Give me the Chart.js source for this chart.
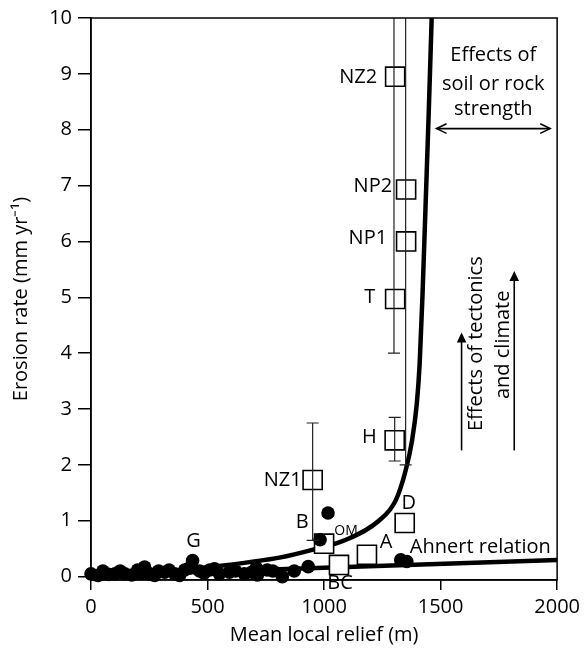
<!DOCTYPE html>
<html>
<head>
<meta charset="utf-8">
<script src="https://cdn.jsdelivr.net/npm/chart.js@4.4.1/dist/chart.umd.min.js"></script>
<style>
  html, body { margin: 0; padding: 0; background: #fff; }
  #wrap { width: 585px; height: 650px; }
</style>
</head>
<body>
<div id="wrap"><canvas id="myChart"></canvas></div>
<script>
const ctx = document.getElementById("myChart");

const xTicks = [0, 500, 1000, 1500, 2000];
const yTicks = [0, 1, 2, 3, 4, 5, 6, 7, 8, 9, 10];

// closed circles (sites)
const dotNames = ["", "", "", "", "", "", "", "", "", "", "", "G", "", "", "", "", "", "", "", "", "", "", "", "B", "", "", "",
                  "", "", "", "", "", "", "", "", "", ""];
const dotX = [0, 51, 103, 145, 200, 230, 252, 273, 316, 359, 402, 436, 466, 509, 551, 594, 658, 709, 714, 756, 821, 872, 932, 983, 1017, 1329, 1355,
              30, 75, 125, 175, 215, 290, 335, 380, 420, 485, 530, 620, 690, 780];
const dotY = [0.05, 0.1, 0.05, 0.05, 0.12, 0.17, 0.05, 0.02, 0.08, 0.05, 0.12, 0.29, 0.1, 0.12, 0.05, 0.08, 0.05, 0.16, 0.03, 0.12, 0.0, 0.1, 0.18, 0.66, 1.14, 0.3, 0.27,
              0.02, 0.04, 0.1, 0.03, 0.06, 0.1, 0.12, 0.02, 0.15, 0.06, 0.14, 0.1, 0.08, 0.1];

// open squares (named sites)
const sqNames = ["NZ2", "NP2", "NP1", "T", "H", "NZ1", "D", "OM", "A", "BC"];
const sqX = [1305, 1352, 1352, 1305, 1303, 951, 1346, 1000, 1184, 1064];
const sqY = [8.95, 6.93, 6.0, 4.97, 2.44, 1.73, 0.96, 0.59, 0.39, 0.21];

// error bars
const errX = [951, 1303, 1300, 1350];
const errLow = [0.65, 2.07, 4.0, 2.0];
const errHigh = [2.75, 2.85, 10.6, 10.6];

// threshold curve
const curveX = [0, 200, 400, 550, 680, 808, 949, 1094, 1235, 1308, 1350, 1378, 1398, 1410, 1422, 1436, 1449, 1461, 1467];
const curveY = [0.04, 0.07, 0.12, 0.19, 0.26, 0.34, 0.48, 0.66, 1.0, 1.37, 1.9, 2.45, 3.1, 3.8, 5.0, 6.7, 8.3, 9.9, 10.7];

// Ahnert relation
const ahnertX = [0, 2000];
const ahnertY = [0.02, 0.3];

const FONT = "'Open Sans', sans-serif";

// label placement: [dx, dy, align, size]
const labelPos = {
  NZ2: [-18, 1, "right", 20], NP2: [-14, -3, "right", 20], NP1: [-19, -3, "right", 20],
  T: [-20, -2, "right", 20], H: [-18, -3, "right", 20], NZ1: [-11, 0, "right", 20],
  D: [4, -20, "center", 20], OM: [22, -13, "center", 14], A: [19, -13, "center", 20],
  BC: [1, 18, "center", 20], G: [1, -19, "center", 20], B: [-18, -17, "center", 20]
};

function pts(xs, ys) {
  return xs.map(function (v, i) { return { x: v, y: ys[i] }; });
}

const datasets = [];
errX.forEach(function (v, i) {
  datasets.push({
    data: [{ x: v, y: errLow[i] }, { x: v, y: errHigh[i] }],
    showLine: true, borderColor: "#222", borderWidth: 1.2,
    pointStyle: "line", pointRadius: 6, pointBorderWidth: 1.2, pointBorderColor: "#222",
    order: 0
  });
});
datasets.push({
  data: pts(dotX, dotY), pointStyle: "circle", pointRadius: 6.8,
  backgroundColor: "#000", borderColor: "#000", borderWidth: 0, clip: false, order: 1
});
datasets.push({
  data: pts(sqX, sqY), pointStyle: "rect", pointRadius: 13.5,
  backgroundColor: "#fff", borderColor: "#000", borderWidth: 1.6, clip: false, order: 2
});
datasets.push({
  data: pts(curveX, curveY), showLine: true, borderColor: "#000", borderWidth: 4.5,
  borderJoinStyle: "round", pointRadius: 0, cubicInterpolationMode: "monotone", order: 3
});
datasets.push({
  data: pts(ahnertX, ahnertY), showLine: true, borderColor: "#000", borderWidth: 4.5,
  pointRadius: 0, order: 3
});

function arrowHead(c, x, y, dir, open) {
  const L = 11, W = 0.45;
  c.beginPath();
  c.moveTo(x - L * Math.cos(dir - W), y - L * Math.sin(dir - W));
  c.lineTo(x, y);
  c.lineTo(x - L * Math.cos(dir + W), y - L * Math.sin(dir + W));
  if (open) { c.stroke(); } else { c.closePath(); c.fill(); }
}

const annotate = {
  id: "annotate",
  afterDatasetsDraw(chart) {
    const c = chart.ctx;
    const a = chart.chartArea;
    const x = chart.scales.x, y = chart.scales.y;
    c.save();
    c.strokeStyle = "#000";
    c.fillStyle = "#000";
    c.lineWidth = 1.5;
    c.strokeRect(a.left, a.top, a.right - a.left, a.bottom - a.top);

    c.textBaseline = "middle";
    function label(name, px, py) {
      const p = labelPos[name];
      c.font = p[3] + "px " + FONT;
      c.textAlign = p[2];
      c.fillText(name, px + p[0], py + p[1]);
    }
    sqNames.forEach(function (n, i) {
      label(n, x.getPixelForValue(sqX[i]), y.getPixelForValue(sqY[i]));
    });
    dotNames.forEach(function (n, i) {
      if (n) label(n, x.getPixelForValue(dotX[i]), y.getPixelForValue(dotY[i]));
    });

    c.font = "20px " + FONT;
    c.textAlign = "left";
    c.fillText("Ahnert relation", x.getPixelForValue(1368), y.getPixelForValue(0.52));

    c.textAlign = "center";
    const cx = x.getPixelForValue(1726);
    c.fillText("Effects of", cx, y.getPixelForValue(9.34));
    c.fillText("soil or rock", cx, y.getPixelForValue(8.82));
    c.fillText("strength", cx, y.getPixelForValue(8.36));

    // double arrow
    const ay = y.getPixelForValue(8.02);
    const ax1 = x.getPixelForValue(1483), ax2 = x.getPixelForValue(1970);
    c.lineWidth = 1.6;
    c.beginPath(); c.moveTo(ax1, ay); c.lineTo(ax2, ay); c.stroke();
    arrowHead(c, ax1, ay, Math.PI, true);
    arrowHead(c, ax2, ay, 0, true);

    // rotated texts
    function vtext(t, dx, dy) {
      c.save();
      c.translate(x.getPixelForValue(dx), y.getPixelForValue(dy));
      c.rotate(-Math.PI / 2);
      c.fillText(t, 0, 0);
      c.restore();
    }
    vtext("Effects of tectonics", 1654, 4.17);
    vtext("and climate", 1769, 4.15);

    // vertical arrows
    c.lineWidth = 1.6;
    [[1590, 2.26, 4.37], [1816, 2.26, 5.47]].forEach(function (v) {
      const px = x.getPixelForValue(v[0]);
      const p1 = y.getPixelForValue(v[1]), p2 = y.getPixelForValue(v[2]);
      c.beginPath(); c.moveTo(px, p1); c.lineTo(px, p2 + 2); c.stroke();
      arrowHead(c, px, p2, -Math.PI / 2, false);
    });
    c.restore();
  }
};

new Chart(ctx, {
  type: "scatter",
  data: { datasets: datasets },
  plugins: [annotate],
  options: {
    responsive: true,
    maintainAspectRatio: false,
    animation: false,
    layout: { padding: { left: 0, top: 16, right: 26, bottom: 0 } },
    plugins: { legend: { display: false }, tooltip: { enabled: false } },
    scales: {
      x: {
        type: "linear", min: 0, max: 2000,
        afterBuildTicks: function (s) { s.ticks = xTicks.map(function (v) { return { value: v }; }); },
        afterFit: function (s) { s.height = 70; },
        grid: { drawOnChartArea: false, drawTicks: true, tickLength: 10, color: "#000", lineWidth: 1.5 },
        border: { color: "#000", width: 1.5 },
        ticks: { color: "#000", padding: 5, maxRotation: 0, font: { family: FONT, size: 20 },
                 callback: function (v) { return String(v); } },
        title: { display: true, text: "Mean local relief (m)", color: "#000",
                 padding: { top: 0, bottom: 3 }, font: { family: FONT, size: 20 } }
      },
      y: {
        type: "linear", min: -0.06, max: 10,
        afterBuildTicks: function (s) { s.ticks = yTicks.map(function (v) { return { value: v }; }); },
        afterFit: function (s) { s.width = 91; },
        grid: { drawOnChartArea: false, drawTicks: true, tickLength: 13, color: "#000", lineWidth: 1.5 },
        border: { color: "#000", width: 1.5 },
        ticks: { color: "#000", padding: 6, font: { family: FONT, size: 20 },
                 callback: function (v) { return String(v); } },
        title: { display: true, text: "Erosion rate (mm yr\u207B\u00B9)", color: "#000",
                 padding: { top: 9, bottom: 0 }, font: { family: FONT, size: 20 } }
      }
    }
  }
});
</script>
</body>
</html>
